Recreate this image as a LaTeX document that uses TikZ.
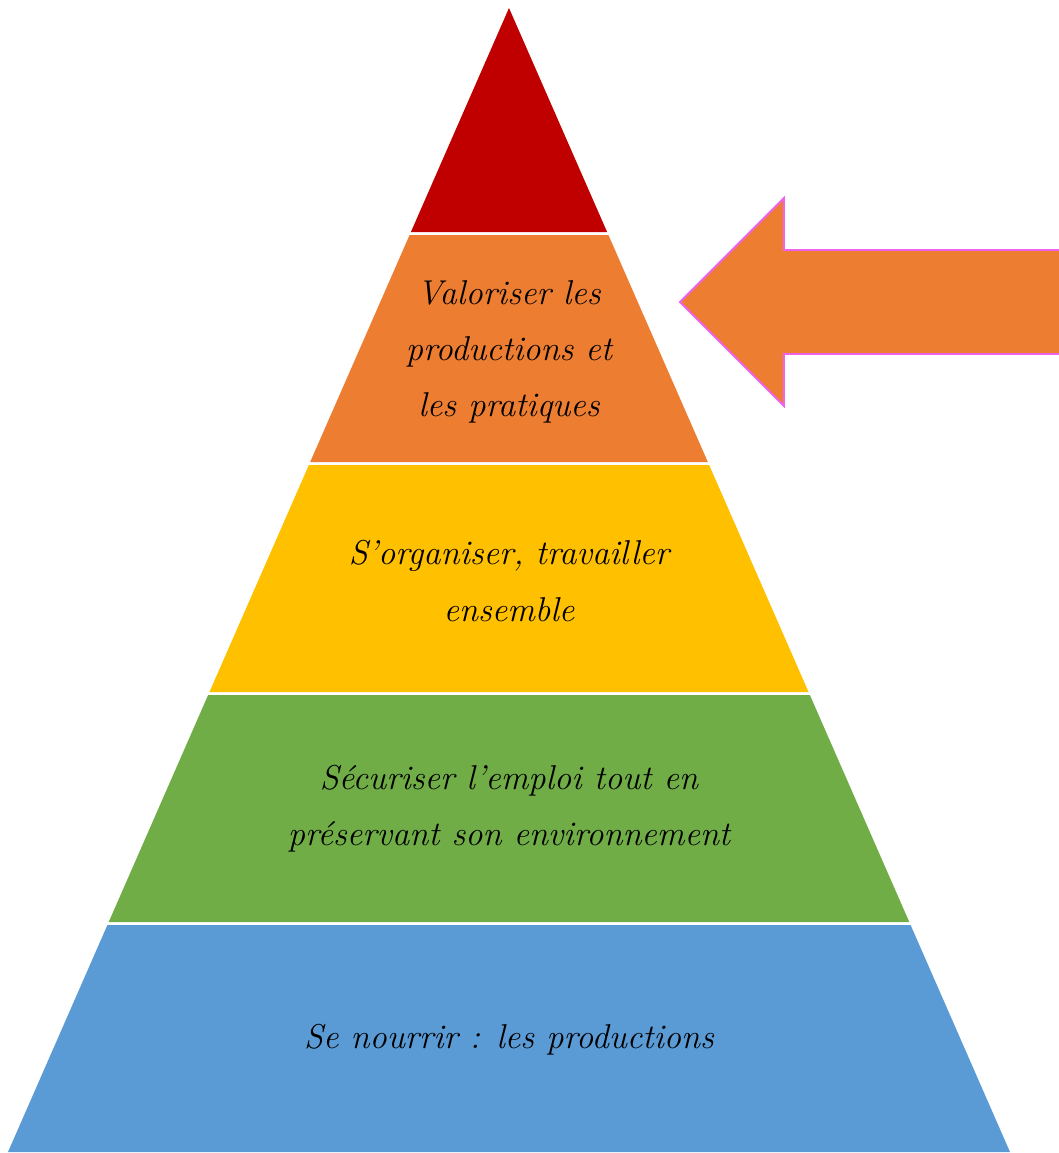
\documentclass[tikz,border=0pt]{standalone}
\usepackage{xcolor}
\usetikzlibrary{positioning, calc}

\definecolor{lvlred}{HTML}{C00000}
\definecolor{lvlorange}{HTML}{ED7D31}
\definecolor{lvlyellow}{HTML}{FFC000}
\definecolor{lvlgreen}{HTML}{70AD47}
\definecolor{lvlblue}{HTML}{5B9BD5}
\definecolor{arrowedge}{HTML}{EE62EE}

\begin{document}
\begin{tikzpicture}[
  x=0.25mm, y=-0.25mm,
  label/.style={align=center, inner sep=0pt,
                font=\fontsize{24.5}{40}\selectfont\itshape},
]
\useasboundingbox (0,0) rectangle (1058,1153);

% pyramid levels: top y / bottom y / colour
\fill[lvlred] (509,8) -- ({509+0.43794*224},232) -- ({509-0.43794*224},232) -- cycle;
\foreach \ya/\yb/\col in {235/462/lvlorange, 465/692/lvlyellow,
                          695/922/lvlgreen, 925/1152/lvlblue}{
  \fill[\col] ({509-0.43794*(\ya-8)},\ya) -- ({509+0.43794*(\ya-8)},\ya)
     -- ({509+0.43794*(\yb-8)},\yb) -- ({509-0.43794*(\yb-8)},\yb) -- cycle;
}

\node[label] at (509, 352)  (valor) {Valoriser les\\productions et\\les pratiques};
\node[label] at (509, 581)  (orga)  {S'organiser, travailler\\ensemble};
\node[label] at (509, 809)  (secur) {Sécuriser l'emploi tout en\\préservant son environnement};
\node[label] at (509, 1040) (nourr) {Se nourrir : les productions};

% block arrow pointing at the orange level
\filldraw[lvlorange, draw=arrowedge, line width=1.3pt]
  (1062,250) -- (784,250) -- (784,198) -- (680,302) -- (784,406)
  -- (784,354) -- (1062,354);
\end{tikzpicture}
\end{document}
